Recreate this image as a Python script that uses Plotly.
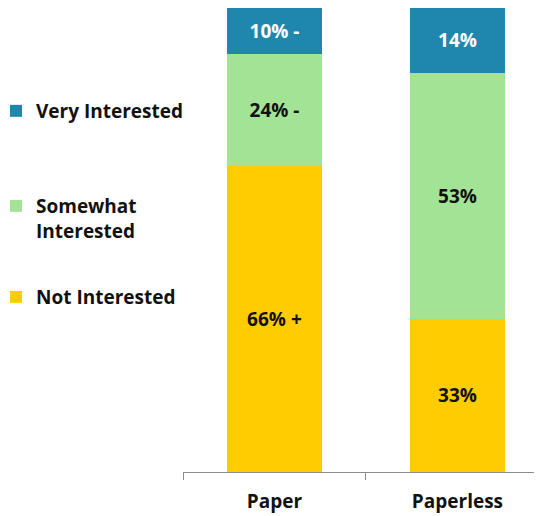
import plotly.graph_objects as go

categorias = ['Paper', 'Paperless']
nombres_leyenda = ['Not Interested', 'Somewhat<br>Interested', 'Very Interested']
not_interested = [66, 33]
somewhat = [24, 53]
very = [10, 14]
etiquetas_not = ['66% +', '33%']
etiquetas_somewhat = ['24% -', '53%']
etiquetas_very = ['10% -', '14%']

colores = ['#FFCC02', '#A2E396', '#1F87AE']
color_texto = ['#111111', '#111111', '#FFFFFF']

valores = [not_interested, somewhat, very]
etiquetas = [etiquetas_not, etiquetas_somewhat, etiquetas_very]
legends = ['legend', 'legend2', 'legend3']
FUENTE = 'Open Sans'

# la página html deja 8 px de margen arriba y a la izquierda
OFF = 8
W, H = 542 - OFF, 516 - OFF
ML, MT, MB = 183 - OFF, 8 - OFF, 44
PLOT_W = W - ML
PLOT_H = H - MT - MB
# borde superior (px de página) de cada leyenda
leyenda_top = [278, 187, 92]
leyenda_left = -4

fig = go.Figure()
for i in range(3):
    fig.add_trace(go.Bar(
        name=nombres_leyenda[i],
        x=categorias,
        y=valores[i],
        marker_color=colores[i],
        marker_line_width=0,
        text=etiquetas[i],
        textposition='inside',
        insidetextanchor='middle',
        textfont=dict(family=FUENTE, size=19, color=color_texto[i], weight='bold'),
        width=0.52,
        legend=legends[i],
        hoverinfo='skip',
    ))

leg_cfg = {}
for i, key in enumerate(legends):
    leg_cfg[key] = dict(
        x=(leyenda_left - 183) / PLOT_W,
        y=1 - (leyenda_top[i] - 8) / PLOT_H,
        xanchor='left', yanchor='top',
        font=dict(family=FUENTE, size=19, color='#111111', weight='bold'),
        itemwidth=30,
        valign='top',
        bgcolor='rgba(0,0,0,0)',
    )

fig.update_layout(
    barmode='stack',
    width=W,
    height=H,
    margin=dict(l=ML, r=0, t=MT, b=MB, autoexpand=False),
    plot_bgcolor='white',
    paper_bgcolor='white',
    showlegend=True,
    **leg_cfg,
)
fig.update_xaxes(
    range=[-0.5, 1.462],
    showline=True,
    linecolor='#8c8c8c',
    linewidth=1,
    ticks='outside',
    tickson='boundaries',
    ticklen=7,
    tickcolor='#8c8c8c',
    ticklabelstandoff=12,
    tickfont=dict(family=FUENTE, size=19, color='#111111', weight='bold'),
    showgrid=False,
    zeroline=False,
)
fig.update_yaxes(range=[0, 100], visible=False)

fig.write_html("out.html")
